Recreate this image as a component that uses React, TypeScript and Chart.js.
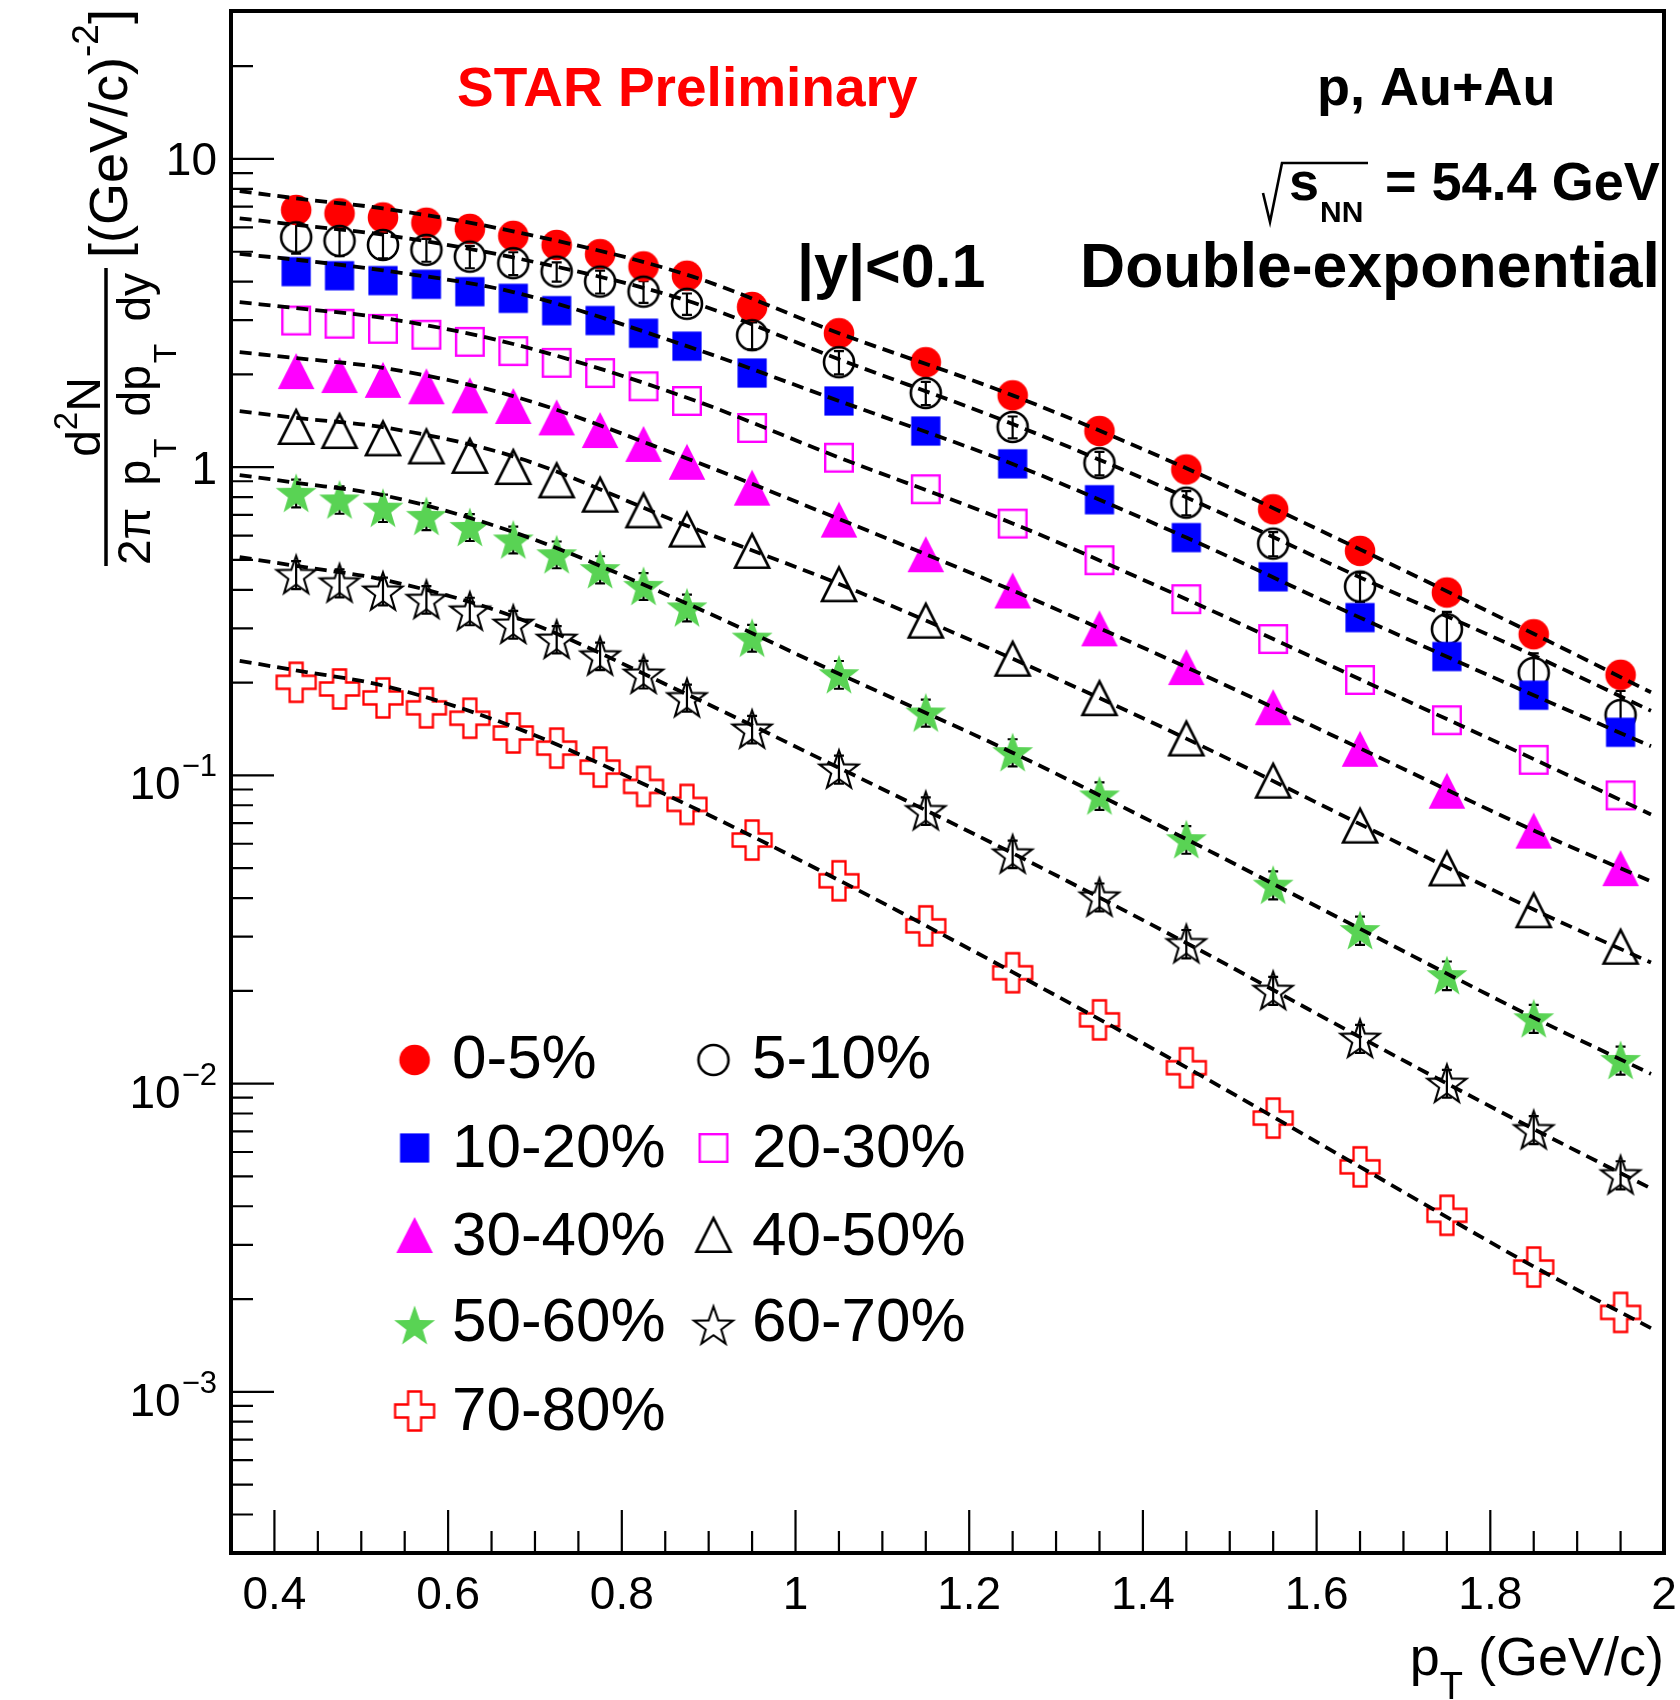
import { useEffect, useRef } from 'react';
import { Chart, registerables } from 'chart.js';

Chart.register(...registerables);

// ---------------- data ----------------
const PT = [0.425, 0.475, 0.525, 0.575, 0.625, 0.675, 0.725, 0.775, 0.825, 0.875, 0.95, 1.05, 1.15, 1.25, 1.35, 1.45, 1.55, 1.65, 1.75, 1.85, 1.95];

const Y_0_5 = [6.83, 6.66, 6.46, 6.21, 5.93, 5.63, 5.26, 4.91, 4.48, 4.18, 3.31, 2.72, 2.19, 1.71, 1.31, 0.983, 0.73, 0.535, 0.392, 0.287, 0.212];
const Y_5_10 = [5.57, 5.42, 5.26, 5.07, 4.82, 4.59, 4.31, 4.0, 3.71, 3.39, 2.68, 2.19, 1.74, 1.35, 1.031, 0.767, 0.565, 0.41, 0.298, 0.215, 0.157];
const Y_10_20 = [4.31, 4.18, 4.03, 3.92, 3.71, 3.53, 3.22, 2.99, 2.72, 2.47, 2.02, 1.64, 1.31, 1.025, 0.784, 0.591, 0.441, 0.325, 0.243, 0.182, 0.138];
const Y_20_30 = [2.99, 2.92, 2.81, 2.69, 2.55, 2.38, 2.18, 2.02, 1.83, 1.64, 1.34, 1.073, 0.848, 0.656, 0.499, 0.373, 0.277, 0.204, 0.151, 0.1123, 0.0861];
const Y_30_40 = [2.05, 1.99, 1.92, 1.83, 1.71, 1.58, 1.45, 1.32, 1.19, 1.041, 0.858, 0.676, 0.522, 0.398, 0.3, 0.2246, 0.1664, 0.122, 0.0892, 0.0662, 0.05];
const Y_40_50 = [1.35, 1.31, 1.24, 1.167, 1.088, 1.001, 0.906, 0.814, 0.724, 0.627, 0.535, 0.417, 0.3175, 0.239, 0.178, 0.1317, 0.0961, 0.0687, 0.0499, 0.0365, 0.0278];
const Y_50_60 = [0.826, 0.786, 0.739, 0.695, 0.64, 0.583, 0.522, 0.467, 0.412, 0.351, 0.28, 0.213, 0.16, 0.119, 0.0861, 0.0621, 0.0442, 0.0315, 0.0225, 0.0163, 0.01194];
const Y_60_70 = [0.449, 0.422, 0.397, 0.373, 0.342, 0.31, 0.277, 0.2446, 0.2134, 0.179, 0.1416, 0.105, 0.077, 0.0557, 0.0404, 0.0285, 0.0201, 0.01405, 0.01004, 0.0071, 0.00507];
const Y_70_80 = [0.2005, 0.1907, 0.1784, 0.1656, 0.1533, 0.1373, 0.1226, 0.1064, 0.0921, 0.0805, 0.0617, 0.0455, 0.0325, 0.0229, 0.0161, 0.01126, 0.00773, 0.00537, 0.00374, 0.00254, 0.00181];

// error bars (absolute)
const ERR_5_10 = [0.64, 0.58, 0.5, 0.43, 0.4, 0.39, 0.31, 0.34, 0.3, 0.27, 0.27, 0.19, 0.15, 0.11, 0.09, 0.069, 0.051, 0.045, 0.041, 0.034, 0.031];
const ERR_50_60 = [0.085, 0.08, 0.075, 0.07, 0.064, 0.058, 0.052, 0.047, 0.041, 0.035, 0.028, 0.022, 0.016, 0.012, 0.0088, 0.0064, 0.0046, 0.0033, 0.0024, 0.0017, 0.00125];
const ERR_60_70 = [0.047, 0.044, 0.041, 0.038, 0.035, 0.032, 0.028, 0.025, 0.022, 0.018, 0.0145, 0.011, 0.0079, 0.0057, 0.0042, 0.003, 0.0021, 0.00146, 0.00104, 0.00074, 0.00053];

// double-exponential fit curves
const FIT_PT = [0.36, 0.425, 0.525, 0.675, 0.875, 1.05, 1.25, 1.45, 1.65, 1.85, 1.985];
const FIT_0_5 = [7.87, 7.45, 6.91, 5.82, 4.21, 2.72, 1.71, 0.992, 0.541, 0.288, 0.186];
const FIT_5_10 = [6.42, 6.11, 5.68, 4.79, 3.47, 2.24, 1.38, 0.798, 0.439, 0.245, 0.162];
const FIT_10_20 = [4.92, 4.71, 4.35, 3.7, 2.47, 1.64, 1.024, 0.591, 0.325, 0.182, 0.1244];
const FIT_20_30 = [3.43, 3.28, 3.05, 2.51, 1.68, 1.075, 0.657, 0.373, 0.205, 0.1129, 0.0747];
const FIT_30_40 = [2.36, 2.26, 2.1, 1.7, 1.067, 0.679, 0.398, 0.2244, 0.1224, 0.0663, 0.0453];
const FIT_40_50 = [1.52, 1.445, 1.348, 1.084, 0.646, 0.418, 0.239, 0.1316, 0.0695, 0.0367, 0.0247];
const FIT_50_60 = [0.943, 0.89, 0.811, 0.616, 0.361, 0.2137, 0.1185, 0.0621, 0.0318, 0.01637, 0.01075];
const FIT_60_70 = [0.511, 0.478, 0.4316, 0.328, 0.1833, 0.1058, 0.0559, 0.0286, 0.01415, 0.00712, 0.00457];
const FIT_70_80 = [0.2354, 0.219, 0.1956, 0.1438, 0.0804, 0.0457, 0.023, 0.01129, 0.00537, 0.00255, 0.00161];

const LABELS = ['0-5%', '5-10%', '10-20%', '20-30%', '30-40%', '40-50%', '50-60%', '60-70%', '70-80%'];
const X_MAJOR = [0.4, 0.6, 0.8, 1.0, 1.2, 1.4, 1.6, 1.8, 2.0];
const X_LABELS = ['0.4', '0.6', '0.8', '1', '1.2', '1.4', '1.6', '1.8', '2'];
const Y_MAJOR = [10, 1, 0.1, 0.01, 0.001];
const Y_EXP = [1, 0, -1, -2, -3];

const FONT = "'Liberation Sans', Arial, Helvetica, sans-serif";

type Kind = 'fcircle' | 'ocircle' | 'fsquare' | 'osquare' | 'ftri' | 'otri' | 'fstar' | 'ostar' | 'ocross';

function starPath(g: CanvasRenderingContext2D, R: number, r: number, dy: number) {
  g.beginPath();
  for (let k = 0; k < 10; k++) {
    const ang = -Math.PI / 2 + (k * Math.PI) / 5;
    const rad = k % 2 === 0 ? R : r;
    const x = Math.cos(ang) * rad;
    const y = Math.sin(ang) * rad + dy;
    if (k === 0) g.moveTo(x, y);
    else g.lineTo(x, y);
  }
  g.closePath();
}

function makeMarker(kind: Kind, color: string): HTMLCanvasElement {
  const s = 52;
  const c = document.createElement('canvas');
  c.width = s;
  c.height = s;
  const g = c.getContext('2d') as CanvasRenderingContext2D;
  g.translate(s / 2, s / 2);
  g.fillStyle = color;
  g.strokeStyle = color;
  g.lineJoin = 'miter';
  switch (kind) {
    case 'fcircle':
      g.beginPath();
      g.arc(0, 0, 15.3, 0, Math.PI * 2);
      g.fill();
      break;
    case 'ocircle':
      g.lineWidth = 2.6;
      g.beginPath();
      g.arc(0, 0, 15, 0, Math.PI * 2);
      g.stroke();
      break;
    case 'fsquare':
      g.fillRect(-14.6, -14.6, 29.2, 29.2);
      break;
    case 'osquare':
      g.lineWidth = 2.4;
      g.strokeRect(-13.8, -13.8, 27.6, 27.6);
      break;
    case 'ftri':
      g.beginPath();
      g.moveTo(0, -18);
      g.lineTo(18.3, 18);
      g.lineTo(-18.3, 18);
      g.closePath();
      g.fill();
      break;
    case 'otri':
      g.lineWidth = 2.6;
      g.beginPath();
      g.moveTo(0, -16.8);
      g.lineTo(17, 16.8);
      g.lineTo(-17, 16.8);
      g.closePath();
      g.stroke();
      break;
    case 'fstar':
      starPath(g, 21.5, 8.6, 2);
      g.fill();
      break;
    case 'ostar':
      g.lineWidth = 2.1;
      starPath(g, 20.5, 8.2, 2);
      g.stroke();
      break;
    case 'ocross': {
      const R = 19.5;
      const a = 6.5;
      g.lineWidth = 2.3;
      g.beginPath();
      g.moveTo(-a, -R);
      g.lineTo(a, -R);
      g.lineTo(a, -a);
      g.lineTo(R, -a);
      g.lineTo(R, a);
      g.lineTo(a, a);
      g.lineTo(a, R);
      g.lineTo(-a, R);
      g.lineTo(-a, a);
      g.lineTo(-R, a);
      g.lineTo(-R, -a);
      g.lineTo(-a, -a);
      g.closePath();
      g.stroke();
      break;
    }
  }
  return c;
}

type Run = { t: string; size: number; dv: number; gap?: number; bold?: boolean };

function runText(ctx: CanvasRenderingContext2D, runs: Run[], measureOnly = false): number {
  let u = 0;
  for (const r of runs) {
    ctx.font = `${r.bold ? 'bold ' : ''}${r.size}px ${FONT}`;
    if (!measureOnly) ctx.fillText(r.t, u, r.dv);
    u += ctx.measureText(r.t).width + (r.gap || 0);
  }
  return u;
}

export default function App() {
  const ref = useRef<HTMLCanvasElement>(null);

  useEffect(() => {
    const canvas = ref.current as HTMLCanvasElement;
    const series = [
      { data: Y_0_5, fit: FIT_0_5, marker: makeMarker('fcircle', '#ff0000') },
      { data: Y_5_10, fit: FIT_5_10, marker: makeMarker('ocircle', '#000000') },
      { data: Y_10_20, fit: FIT_10_20, marker: makeMarker('fsquare', '#0000ff') },
      { data: Y_20_30, fit: FIT_20_30, marker: makeMarker('osquare', '#ff00ff') },
      { data: Y_30_40, fit: FIT_30_40, marker: makeMarker('ftri', '#ff00ff') },
      { data: Y_40_50, fit: FIT_40_50, marker: makeMarker('otri', '#000000') },
      { data: Y_50_60, fit: FIT_50_60, marker: makeMarker('fstar', '#59d354') },
      { data: Y_60_70, fit: FIT_60_70, marker: makeMarker('ostar', '#000000') },
      { data: Y_70_80, fit: FIT_70_80, marker: makeMarker('ocross', '#ff0000') },
    ];

    const datasets: any[] = [];
    series.forEach((s, i) => {
      datasets.push({
        label: LABELS[i],
        data: PT.map((x, j) => ({ x, y: s.data[j] })),
        showLine: false,
        pointStyle: s.marker,
        pointRadius: 10,
        pointHoverRadius: 10,
        order: 20 - i,
      });
    });
    series.forEach((s, i) => {
      datasets.push({
        label: 'fit ' + LABELS[i],
        data: FIT_PT.map((x, j) => ({ x, y: s.fit[j] })),
        borderColor: '#000000',
        borderWidth: 3.8,
        borderDash: [12, 7],
        pointRadius: 0,
        pointHoverRadius: 0,
        cubicInterpolationMode: 'monotone',
        fill: false,
        order: 0,
      });
    });

    const errSets = [
      { idx: 1, vals: Y_5_10, err: ERR_5_10 },
      { idx: 6, vals: Y_50_60, err: ERR_50_60 },
      { idx: 7, vals: Y_60_70, err: ERR_60_70 },
    ];

    const decor = {
      id: 'decor',
      beforeDraw(chart: any) {
        const ctx = chart.ctx as CanvasRenderingContext2D;
        ctx.save();
        ctx.fillStyle = '#ffffff';
        ctx.fillRect(0, 0, chart.width, chart.height);
        ctx.restore();
      },
      beforeDatasetsDraw(chart: any) {
        const ctx = chart.ctx as CanvasRenderingContext2D;
        const xs = chart.scales.x;
        const ys = chart.scales.y;
        ctx.save();
        ctx.strokeStyle = '#000000';
        ctx.lineWidth = 2.2;
        for (const es of errSets) {
          PT.forEach((p, j) => {
            const x = xs.getPixelForValue(p);
            const y1 = ys.getPixelForValue(es.vals[j] + es.err[j]);
            const y2 = ys.getPixelForValue(es.vals[j] - es.err[j]);
            ctx.beginPath();
            ctx.moveTo(x, y1);
            ctx.lineTo(x, y2);
            ctx.moveTo(x - 5, y1);
            ctx.lineTo(x + 5, y1);
            ctx.moveTo(x - 5, y2);
            ctx.lineTo(x + 5, y2);
            ctx.stroke();
          });
        }
        ctx.restore();
      },
      afterDraw(chart: any) {
        const ctx = chart.ctx as CanvasRenderingContext2D;
        const xs = chart.scales.x;
        const ys = chart.scales.y;
        const a = chart.chartArea;
        ctx.save();
        ctx.strokeStyle = '#000000';
        ctx.fillStyle = '#000000';

        // ticks
        ctx.lineWidth = 2.2;
        ctx.beginPath();
        for (let k = -4; k <= 1; k++) {
          for (let m = 1; m <= 9; m++) {
            const v = m * Math.pow(10, k);
            if (v < ys.min || v > ys.max) continue;
            const y = ys.getPixelForValue(v);
            const len = m === 1 ? 43 : 22;
            ctx.moveTo(a.left, y);
            ctx.lineTo(a.left + len, y);
          }
        }
        for (let i = 8; i <= 39; i++) {
          const v = i * 0.05;
          const x = xs.getPixelForValue(v);
          const len = i % 4 === 0 ? 43 : 22;
          ctx.moveTo(x, a.bottom);
          ctx.lineTo(x, a.bottom - len);
        }
        ctx.stroke();

        // frame
        ctx.lineWidth = 4;
        ctx.strokeRect(a.left, a.top, a.right - a.left, a.bottom - a.top);

        // x tick labels
        ctx.font = `46px ${FONT}`;
        ctx.textAlign = 'center';
        ctx.textBaseline = 'alphabetic';
        X_MAJOR.forEach((v, i) => {
          ctx.fillText(X_LABELS[i], xs.getPixelForValue(v), 1609);
        });

        // y tick labels
        Y_MAJOR.forEach((v, i) => {
          const y = ys.getPixelForValue(v);
          const e = Y_EXP[i];
          if (e >= 0) {
            ctx.font = `46px ${FONT}`;
            ctx.textAlign = 'right';
            ctx.fillText(e === 1 ? '10' : '1', 217, y + 16.5);
          } else {
            ctx.font = `31px ${FONT}`;
            ctx.textAlign = 'right';
            const sup = '\u2212' + String(-e);
            const sw = ctx.measureText(sup).width;
            ctx.fillText(sup, 217, y + 1);
            ctx.font = `46px ${FONT}`;
            ctx.fillText('10', 217 - sw - 1, y + 24);
          }
        });

        // x axis title
        ctx.textAlign = 'left';
        {
          const runs: Run[] = [
            { t: 'p', size: 54, dv: 0 },
            { t: 'T', size: 38, dv: 24 },
            { t: ' (GeV/c)', size: 54, dv: 0 },
          ];
          const w = runText(ctx, runs, true);
          ctx.save();
          ctx.translate(1664 - w, 1675);
          runText(ctx, runs);
          ctx.restore();
        }

        // y axis title (rotated)
        {
          const num: Run[] = [
            { t: 'd', size: 48, dv: 0 },
            { t: '2', size: 33, dv: -23 },
            { t: 'N', size: 48, dv: 0 },
          ];
          const wn = runText(ctx, num, true);
          ctx.save();
          ctx.translate(100, 417 + wn / 2);
          ctx.rotate(-Math.PI / 2);
          runText(ctx, num);
          ctx.restore();
          ctx.lineWidth = 3.5;
          ctx.beginPath();
          ctx.moveTo(106, 268);
          ctx.lineTo(106, 566);
          ctx.stroke();
          const den: Run[] = [
            { t: '2\u03c0', size: 46, dv: 0 },
            { t: 'p', size: 46, dv: 0, gap: 2 },
            { t: 'T', size: 32, dv: 26 },
            { t: 'dp', size: 46, dv: 0, gap: 2 },
            { t: 'T', size: 32, dv: 26 },
            { t: 'dy', size: 46, dv: 0 },
          ];
          const w0 = runText(ctx, den, true);
          const g = Math.max(8, (292 - w0) / 3);
          den[0].gap = g;
          den[2].gap = g;
          den[4].gap = g;
          ctx.save();
          ctx.translate(150, 565);
          ctx.rotate(-Math.PI / 2);
          runText(ctx, den);
          ctx.restore();
          const un: Run[] = [
            { t: '[(GeV/c)', size: 54, dv: 0 },
            { t: '-2', size: 37, dv: -29 },
            { t: ']', size: 54, dv: 0 },
          ];
          ctx.save();
          ctx.translate(127, 258);
          ctx.rotate(-Math.PI / 2);
          runText(ctx, un);
          ctx.restore();
        }

        // annotations
        ctx.textAlign = 'left';
        ctx.fillStyle = '#ff0000';
        ctx.font = `bold 55px ${FONT}`;
        ctx.fillText('STAR Preliminary', 457, 106);
        ctx.fillStyle = '#000000';
        ctx.font = `bold 54px ${FONT}`;
        ctx.fillText('p, Au+Au', 1317, 105);
        ctx.font = `bold 61px ${FONT}`;
        ctx.fillText('|y|<0.1', 797, 287);
        ctx.font = `bold 62.5px ${FONT}`;
        ctx.fillText('Double-exponential', 1080, 287);
        // sqrt(s_NN) = 54.4 GeV
        ctx.lineWidth = 2.6;
        ctx.beginPath();
        ctx.moveTo(1263, 193);
        ctx.lineTo(1270, 222);
        ctx.lineTo(1282, 163);
        ctx.lineTo(1368, 163);
        ctx.stroke();
        ctx.font = `bold 54px ${FONT}`;
        ctx.fillText('s', 1289, 200);
        ctx.font = `bold 30px ${FONT}`;
        ctx.fillText('NN', 1320, 222);
        ctx.font = `bold 54px ${FONT}`;
        ctx.fillText('= 54.4 GeV', 1385, 200);

        // legend
        const colX = [414.6, 713.5];
        const textX = [452, 752];
        const rowY = [1060, 1148, 1235, 1325, 1411];
        const rowBase = [1078, 1167, 1255, 1341, 1430];
        ctx.font = `62px ${FONT}`;
        series.forEach((s, i) => {
          const col = i % 2;
          const row = Math.floor(i / 2);
          const m = s.marker;
          ctx.drawImage(m, colX[col] - m.width / 2, rowY[row] - m.height / 2);
          ctx.fillText(LABELS[i], textX[col], rowBase[row]);
        });

        ctx.restore();
      },
    };

    const chart = new Chart(canvas, {
      type: 'line',
      data: { datasets },
      options: {
        responsive: false,
        animation: false,
        devicePixelRatio: 1,
        events: [],
        layout: { padding: { left: 231, right: 16, top: 9, bottom: 147 } },
        scales: {
          x: { type: 'linear', min: 0.35, max: 2.0, display: false },
          y: { type: 'logarithmic', min: 3.03e-4, max: 30.2, display: false },
        },
        plugins: { legend: { display: false }, tooltip: { enabled: false } },
      },
      plugins: [decor],
    } as any);

    return () => chart.destroy();
  }, []);

  return (
    <div style={{ position: 'absolute', left: 0, top: 0, width: 1680, height: 1700, background: '#ffffff' }}>
      <canvas ref={ref} width={1680} height={1700} style={{ width: 1680, height: 1700, display: 'block' }} />
    </div>
  );
}
